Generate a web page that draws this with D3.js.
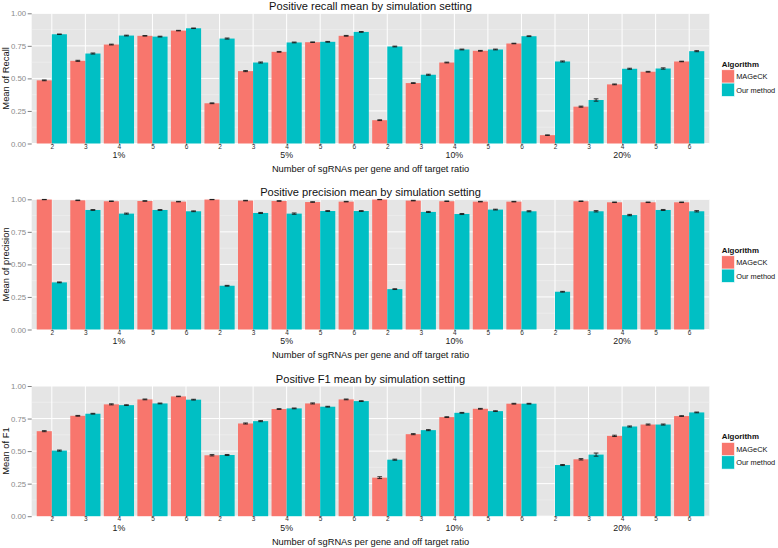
<!DOCTYPE html>
<html>
<head>
<meta charset="utf-8">
<script src="https://cdn.jsdelivr.net/npm/d3@7"></script>
<style>
  html, body { margin: 0; padding: 0; background: #fff; }
  svg { display: block; font-family: "Liberation Sans", Arial, sans-serif; }
</style>
</head>
<body>
<svg id="chart" width="778" height="548"></svg>
<script>
// ---- data ----
const sgRNAs = ["2", "3", "4", "5", "6"];
const ratios = ["1%", "5%", "10%", "20%"];
const algorithms = ["MAGeCK", "Our method"];
const yTicks = [0, 0.25, 0.5, 0.75, 1.0];

const recallMAGeCK = [0.485, 0.635, 0.760, 0.827, 0.867, 0.309, 0.556, 0.704, 0.778, 0.827, 0.179, 0.464, 0.622, 0.712, 0.768, 0.064, 0.283, 0.454, 0.551, 0.630];
const recallOurs   = [0.839, 0.691, 0.829, 0.821, 0.885, 0.806, 0.622, 0.776, 0.781, 0.857, 0.745, 0.528, 0.722, 0.722, 0.824, 0.630, 0.334, 0.574, 0.576, 0.709];
const recallErrMAGeCK = [0.003, 0.004, 0.003, 0.002, 0.002, 0.003, 0.004, 0.003, 0.002, 0.003, 0.003, 0.003, 0.003, 0.003, 0.002, 0.002, 0.004, 0.003, 0.003, 0.002];
const recallErrOurs   = [0.002, 0.004, 0.003, 0.003, 0.002, 0.004, 0.004, 0.003, 0.003, 0.003, 0.003, 0.004, 0.003, 0.003, 0.003, 0.004, 0.009, 0.004, 0.005, 0.004];

const precisionMAGeCK = [0.998, 0.992, 0.985, 0.987, 0.982, 0.998, 0.990, 0.987, 0.979, 0.982, 0.998, 0.990, 0.985, 0.982, 0.982, null, 0.985, 0.977, 0.977, 0.977];
const precisionOurs   = [0.362, 0.918, 0.890, 0.918, 0.908, 0.336, 0.895, 0.890, 0.910, 0.910, 0.310, 0.903, 0.887, 0.921, 0.908, 0.290, 0.908, 0.879, 0.918, 0.908];
const precisionErrMAGeCK = [0.001, 0.002, 0.002, 0.002, 0.002, 0.001, 0.002, 0.002, 0.002, 0.002, 0.001, 0.002, 0.002, 0.002, 0.002, null, 0.002, 0.002, 0.002, 0.002];
const precisionErrOurs   = [0.003, 0.003, 0.004, 0.003, 0.003, 0.003, 0.004, 0.005, 0.003, 0.003, 0.003, 0.004, 0.004, 0.003, 0.004, 0.003, 0.005, 0.005, 0.004, 0.005];

const f1MAGeCK = [0.653, 0.771, 0.859, 0.897, 0.920, 0.468, 0.712, 0.823, 0.866, 0.897, 0.296, 0.630, 0.761, 0.825, 0.864, null, 0.437, 0.617, 0.704, 0.769];
const f1Ours   = [0.504, 0.787, 0.853, 0.866, 0.895, 0.470, 0.730, 0.828, 0.841, 0.884, 0.434, 0.661, 0.794, 0.807, 0.864, 0.393, 0.473, 0.689, 0.704, 0.797];
const f1ErrMAGeCK = [0.004, 0.003, 0.004, 0.003, 0.002, 0.005, 0.004, 0.003, 0.004, 0.003, 0.007, 0.004, 0.003, 0.003, 0.003, null, 0.005, 0.005, 0.004, 0.003];
const f1ErrOurs   = [0.004, 0.003, 0.003, 0.003, 0.003, 0.004, 0.004, 0.003, 0.003, 0.003, 0.004, 0.004, 0.003, 0.003, 0.003, 0.004, 0.012, 0.004, 0.004, 0.003];

const titles = ["Positive recall mean by simulation setting", "Positive precision mean by simulation setting", "Positive F1 mean by simulation setting"];
const yLabels = ["Mean of Recall", "Mean of precision", "Mean of F1"];
const xLabel = "Number of sgRNAs per gene and off target ratio";

const panelValues = [[recallMAGeCK, recallOurs], [precisionMAGeCK, precisionOurs], [f1MAGeCK, f1Ours]];
const panelErrors = [[recallErrMAGeCK, recallErrOurs], [precisionErrMAGeCK, precisionErrOurs], [f1ErrMAGeCK, f1ErrOurs]];

// ---- layout ----
const colors = ["#F8766D", "#00BFC4"];
const panelTops = [13.3, 199.3, 386];
const panelH = 130.2;
const plotLeft = 31.7, plotRight = 709.3;
const FONT = "Liberation Sans, Arial, sans-serif";

const svg = d3.select("#chart");
svg.append("rect").attr("width", 778).attr("height", 548).attr("fill", "#fff");

// categories: each (ratio, sgRNA) combination
const cats = [];
ratios.forEach(r => sgRNAs.forEach(s => cats.push({ratio: r, sg: s})));
const x = d3.scaleLinear().domain([0.4, cats.length + 0.6]).range([plotLeft, plotRight]);
const unit = x(1) - x(0);
const dodge = 0.9;
const barW = dodge / algorithms.length;

panelTops.forEach((top, p) => {
  const g = svg.append("g");
  const y = d3.scaleLinear().domain([0, 1]).range([top + panelH, top]);
  const bottom = top + panelH;

  // panel background
  g.append("rect").attr("x", plotLeft).attr("y", top).attr("width", plotRight - plotLeft).attr("height", panelH).attr("fill", "#E5E5E5");
  // minor grid
  const minor = d3.range(0.125, 1, 0.25);
  g.selectAll(".minor").data(minor).enter().append("line")
    .attr("x1", plotLeft).attr("x2", plotRight)
    .attr("y1", d => y(d)).attr("y2", d => y(d))
    .attr("stroke", "#F2F2F2").attr("stroke-width", 0.5);
  // major grid
  g.selectAll(".major").data(yTicks).enter().append("line")
    .attr("x1", plotLeft).attr("x2", plotRight)
    .attr("y1", d => y(d)).attr("y2", d => y(d))
    .attr("stroke", "#fff").attr("stroke-width", 1);
  g.selectAll(".vmajor").data(cats).enter().append("line")
    .attr("x1", (d, i) => x(i + 1)).attr("x2", (d, i) => x(i + 1))
    .attr("y1", top).attr("y2", bottom)
    .attr("stroke", "#fff").attr("stroke-width", 1);

  // bars
  algorithms.forEach((alg, a) => {
    const vals = panelValues[p][a];
    const errs = panelErrors[p][a];
    const data = vals.map((v, i) => ({v, e: errs[i], i})).filter(d => d.v !== null);
    const xs = d => x(d.i + 1 - dodge / 2 + a * barW);
    g.selectAll(".bar" + a).data(data).enter().append("rect")
      .attr("x", xs)
      .attr("width", barW * unit)
      .attr("y", d => y(d.v))
      .attr("height", d => y(0) - y(d.v))
      .attr("fill", colors[a]);
    // error bars
    const eb = g.selectAll(".eb" + a).data(data).enter().append("g")
      .attr("stroke", "#1a1a1a").attr("stroke-width", 0.9).attr("fill", "none");
    const cx = d => x(d.i + 1 - dodge / 2 + (a + 0.5) * barW);
    const hw = 0.07;
    eb.append("line").attr("x1", cx).attr("x2", cx).attr("y1", d => y(d.v + d.e)).attr("y2", d => y(d.v - d.e));
    eb.append("line").attr("x1", d => cx(d) - hw * unit).attr("x2", d => cx(d) + hw * unit).attr("y1", d => y(d.v + d.e)).attr("y2", d => y(d.v + d.e));
    eb.append("line").attr("x1", d => cx(d) - hw * unit).attr("x2", d => cx(d) + hw * unit).attr("y1", d => y(d.v - d.e)).attr("y2", d => y(d.v - d.e));
  });

  // y axis
  const yAxis = d3.axisLeft(y).tickValues(yTicks).tickFormat(d3.format(".2f")).tickSize(4).tickPadding(1.5);
  const ya = g.append("g").attr("transform", `translate(${plotLeft},0)`).call(yAxis);
  ya.select(".domain").remove();
  ya.selectAll(".tick line").attr("stroke", "#7F7F7F");
  ya.selectAll(".tick text").attr("fill", "#8A8A8A").attr("font-size", 7.8).attr("font-family", FONT);

  // x axis (numbers)
  const xAxis = d3.axisBottom(x).tickValues(d3.range(1, cats.length + 1)).tickFormat(i => cats[i - 1].sg).tickSize(1.5).tickPadding(0);
  const xa = g.append("g").attr("transform", `translate(0,${bottom})`).call(xAxis);
  xa.select(".domain").remove();
  xa.selectAll(".tick line").attr("stroke", "#7F7F7F");
  xa.selectAll(".tick text").attr("fill", "#333").attr("font-size", 6.5).attr("font-family", FONT).attr("dy", "0.55em");

  // ratio labels (centered under 3rd category of each ratio)
  g.selectAll(".ratio").data(ratios).enter().append("text")
    .attr("x", (r, k) => x(k * sgRNAs.length + 3))
    .attr("y", bottom + 14.6)
    .attr("text-anchor", "middle")
    .attr("font-size", 8.8)
    .attr("fill", "#222")
    .text(r => r);

  // x title
  g.append("text").attr("x", (plotLeft + plotRight) / 2).attr("y", bottom + 28.3)
    .attr("text-anchor", "middle").attr("font-size", 9.3).attr("fill", "#111").text(xLabel);

  // y title
  g.append("text").attr("transform", `translate(9.3,${top + panelH / 2}) rotate(-90)`)
    .attr("text-anchor", "middle").attr("font-size", 9.4).attr("fill", "#111").text(yLabels[p]);

  // title
  g.append("text").attr("x", (plotLeft + plotRight) / 2).attr("y", top - 3.5)
    .attr("text-anchor", "middle").attr("font-size", 11.1).attr("fill", "#111").text(titles[p]);

  // legend
  const lg = g.append("g").attr("transform", `translate(721.7,${top})`);
  lg.append("text").attr("x", 0).attr("y", 53.3).attr("font-size", 7.9).attr("font-weight", "bold").attr("fill", "#111").text("Algorithm");
  algorithms.forEach((alg, a) => {
    lg.append("rect").attr("x", 0).attr("y", 56.5 + a * 13.3).attr("width", 12.8).attr("height", 13.3)
      .attr("fill", colors[a]).attr("stroke", "#fff").attr("stroke-width", 0.6);
    lg.append("text").attr("x", 14.5).attr("y", 56.5 + a * 13.3 + 9.6).attr("font-size", 7.4).attr("fill", "#111").text(alg);
  });
});
</script>
</body>
</html>
